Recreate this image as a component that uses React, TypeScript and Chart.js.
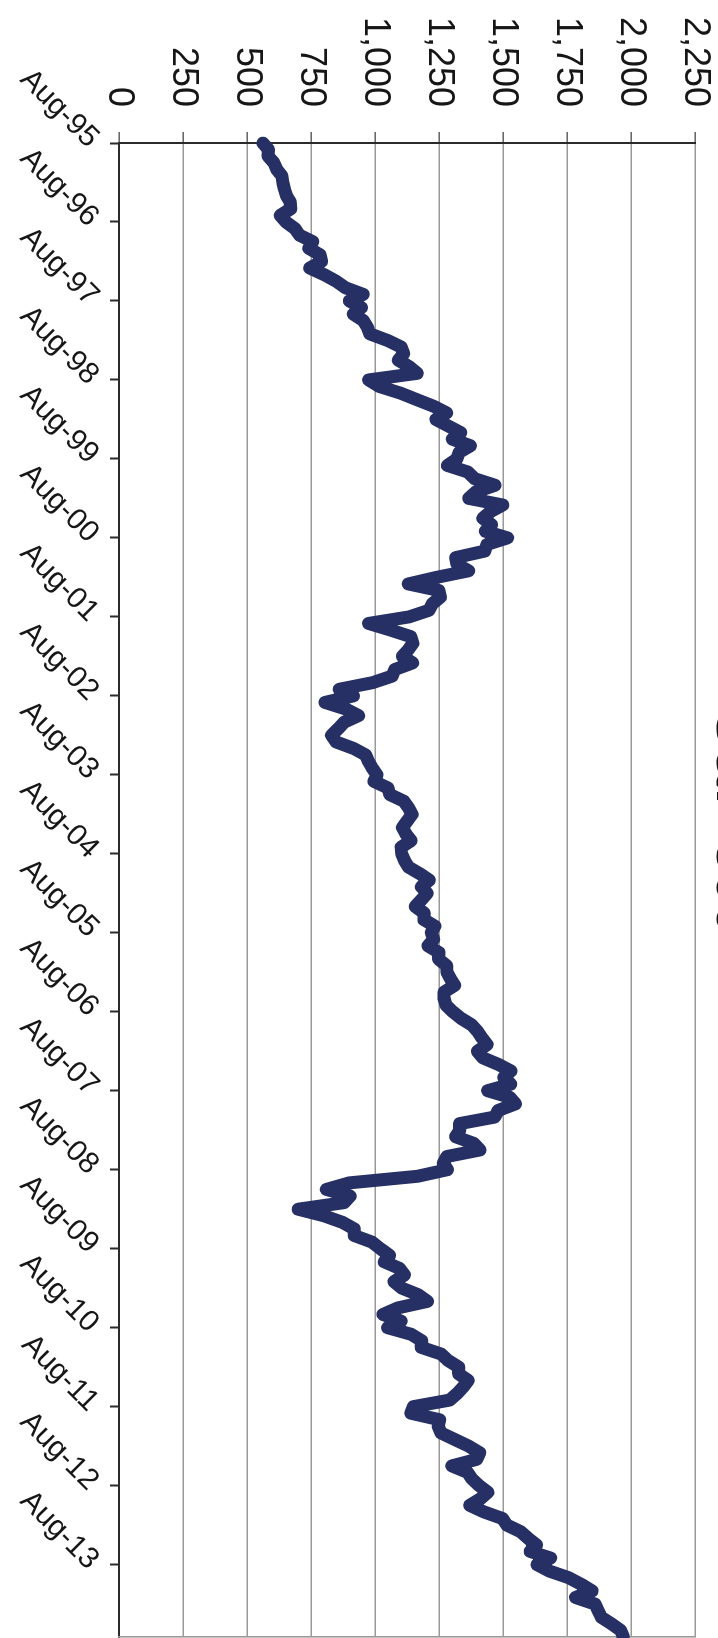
import { useEffect, useRef } from 'react';
import { Chart, registerables } from 'chart.js';

Chart.register(...registerables);

// S&P 500 month-end levels, Aug 1995 through Jul 2014
const START_YEAR = 1995;
const START_MONTH = 7; // August, zero-based
const MONTH_NAMES = ['Jan', 'Feb', 'Mar', 'Apr', 'May', 'Jun', 'Jul', 'Aug', 'Sep', 'Oct', 'Nov', 'Dec'];

const sp1995 = [562, 584, 582, 605, 616];
const sp1996 = [636, 640, 646, 654, 669, 671, 630, 652, 687, 705, 757, 741];
const sp1997 = [786, 791, 745, 801, 848, 885, 954, 900, 947, 915, 955, 970];
const sp1998 = [980, 1049, 1102, 1112, 1091, 1134, 1165, 975, 1017, 1099, 1164, 1229];
const sp1999 = [1280, 1238, 1286, 1335, 1302, 1373, 1329, 1320, 1283, 1363, 1389, 1469];
const sp2000 = [1394, 1366, 1499, 1452, 1421, 1455, 1431, 1518, 1437, 1429, 1315, 1320];
const sp2001 = [1366, 1240, 1130, 1250, 1256, 1224, 1211, 1134, 975, 1060, 1140, 1148];
const sp2002 = [1130, 1107, 1147, 1077, 1067, 990, 860, 916, 805, 886, 936, 880];
const sp2003 = [856, 830, 848, 917, 964, 975, 990, 1008, 996, 1051, 1058, 1112];
const sp2004 = [1131, 1145, 1126, 1107, 1121, 1141, 1102, 1104, 1115, 1130, 1174, 1212];
const sp2005 = [1181, 1204, 1181, 1157, 1192, 1191, 1234, 1220, 1229, 1207, 1250, 1248];
const sp2006 = [1280, 1281, 1295, 1311, 1270, 1270, 1277, 1304, 1336, 1378, 1401, 1418];
const sp2007 = [1438, 1400, 1421, 1482, 1531, 1503, 1530, 1440, 1527, 1549, 1481, 1468];
const sp2008 = [1330, 1331, 1315, 1386, 1410, 1280, 1267, 1283, 1166, 900, 810, 903];
const sp2009 = [880, 700, 800, 873, 919, 919, 988, 1021, 1057, 1036, 1096, 1115];
const sp2010 = [1074, 1105, 1169, 1205, 1089, 1031, 1102, 1049, 1141, 1183, 1181, 1258];
const sp2011 = [1286, 1327, 1326, 1364, 1345, 1321, 1292, 1150, 1140, 1253, 1247, 1258];
const sp2012 = [1312, 1366, 1409, 1398, 1300, 1362, 1379, 1407, 1441, 1412, 1370, 1426];
const sp2013 = [1498, 1515, 1569, 1598, 1631, 1606, 1686, 1633, 1682, 1757, 1806, 1848];
const sp2014 = [1783, 1860, 1872, 1884, 1924, 1960, 1970];

const closes = [
  ...sp1995, ...sp1996, ...sp1997, ...sp1998, ...sp1999, ...sp2000, ...sp2001,
  ...sp2002, ...sp2003, ...sp2004, ...sp2005, ...sp2006, ...sp2007, ...sp2008,
  ...sp2009, ...sp2010, ...sp2011, ...sp2012, ...sp2013, ...sp2014,
];

const monthLabels = closes.map((_, i) => {
  const m = START_MONTH + i;
  const year = START_YEAR + Math.floor(m / 12);
  return `${MONTH_NAMES[m % 12]}-${String(year % 100).padStart(2, '0')}`;
});

// value axis
const VALUE_MIN = 0;
const VALUE_MAX = 2250;
const VALUE_STEP = 250;

const TITLE = 'S&P 500';

// the chart is laid out landscape, then turned a quarter clockwise on the page
const CHART_W = 1700;
const CHART_H = 760;

const LINE_COLOR = '#263065';
const AXIS_COLOR = '#2b2b2b';
const GRID_COLOR = '#999999';
const TEXT_COLOR = '#161616';
const FONT_FAMILY = '"Liberation Sans", Arial, Helvetica, sans-serif';

export default function App() {
  const canvasRef = useRef<HTMLCanvasElement>(null);

  useEffect(() => {
    const canvas = canvasRef.current;
    if (!canvas) return;
    Chart.defaults.font.family = FONT_FAMILY;

    const chart = new Chart(canvas, {
      type: 'line',
      data: {
        labels: monthLabels,
        datasets: [
          {
            data: closes,
            borderColor: LINE_COLOR,
            backgroundColor: LINE_COLOR,
            borderWidth: 13,
            borderJoinStyle: 'round',
            borderCapStyle: 'round',
            pointRadius: 0,
            tension: 0,
            fill: false,
          },
        ],
      },
      options: {
        responsive: false,
        maintainAspectRatio: false,
        animation: false,
        events: [],
        layout: { padding: { left: 0, right: 55, top: 0, bottom: 0 } },
        plugins: {
          legend: { display: false },
          tooltip: { enabled: false },
          title: {
            display: true,
            text: TITLE,
            color: TEXT_COLOR,
            font: { size: 56, weight: 'bold', lineHeight: 1 },
            padding: { top: 0, bottom: 9 },
          },
        },
        scales: {
          x: {
            type: 'category',
            afterBuildTicks: (scale: any) => {
              scale.ticks = scale.ticks.filter((t: any) => (t.value as number) % 12 === 0);
            },
            afterFit: (scale: any) => {
              scale.height = 119;
            },
            ticks: {
              autoSkip: false,
              minRotation: 45,
              maxRotation: 45,
              padding: 4,
              color: TEXT_COLOR,
              font: { size: 30 },
            },
            grid: {
              drawOnChartArea: false,
              drawTicks: true,
              tickLength: 9,
              tickColor: AXIS_COLOR,
              tickWidth: 2,
            },
            border: { color: AXIS_COLOR, width: 2 },
          },
          y: {
            min: VALUE_MIN,
            max: VALUE_MAX,
            afterFit: (scale: any) => {
              scale.width = 143;
            },
            ticks: {
              stepSize: VALUE_STEP,
              padding: 25,
              color: TEXT_COLOR,
              font: { size: 36 },
              callback: (v: any) => Number(v).toLocaleString('en-US'),
            },
            grid: {
              color: GRID_COLOR,
              lineWidth: 1.6,
              tickLength: 11,
              tickColor: '#6a6a6a',
            },
            border: { color: AXIS_COLOR, width: 2 },
          },
          frame: {
            type: 'linear',
            position: 'right',
            afterFit: (scale: any) => {
              scale.width = 8;
            },
            ticks: { display: false },
            grid: { display: false },
            border: { display: true, color: GRID_COLOR, width: 1.6 },
          },
        },
      },
    } as any);

    return () => chart.destroy();
  }, []);

  return (
    <div style={{ position: 'fixed', inset: 0, overflow: 'hidden', background: '#ffffff' }}>
      <div
        style={{
          position: 'absolute',
          left: 0,
          top: 0,
          width: CHART_W,
          height: CHART_H,
          transformOrigin: '0 0',
          transform: `translate(${CHART_H}px, 0) rotate(90deg)`,
        }}
      >
        <canvas
          ref={canvasRef}
          width={CHART_W}
          height={CHART_H}
          style={{ display: 'block', width: CHART_W, height: CHART_H }}
        />
      </div>
    </div>
  );
}
